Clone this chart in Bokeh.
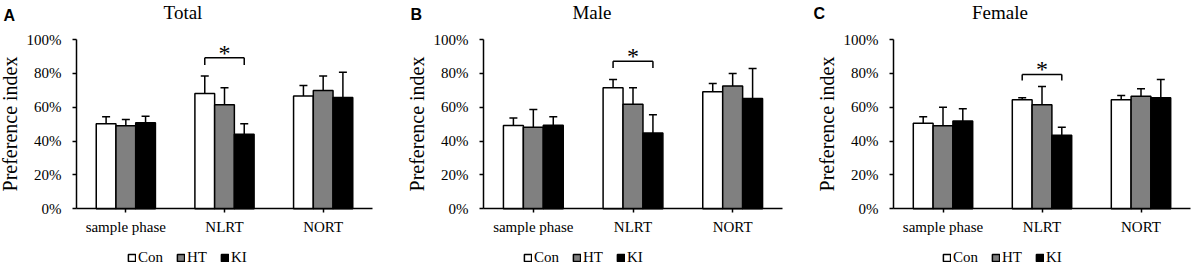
from bokeh.plotting import figure
from bokeh.layouts import row
from bokeh.models import (Range1d, Whisker, TeeHead, ColumnDataSource, Legend, LegendItem,
                          Label, FixedTicker, PrintfTickFormatter)
from bokeh.transform import dodge
from bokeh.core.properties import value
from bokeh.embed import file_html
from bokeh.resources import INLINE

# ---------------- data ----------------
categories = ["sample phase", "NLRT", "NORT"]
category_pos = [1, 2, 3]
groups = ["Con", "HT", "KI"]
group_colors = ["#ffffff", "#808080", "#000000"]
y_ticks = [0, 20, 40, 60, 80, 100]

panel_titles = ["Total", "Male", "Female"]
panel_letters = ["A", "B", "C"]

# means (%) per group, and upper error-bar lengths (%)
total_con = [50.2, 68.1, 66.7]
total_ht = [49.0, 61.4, 69.9]
total_ki = [50.8, 44.1, 65.7]
total_con_err = [4.1, 10.4, 6.1]
total_ht_err = [3.8, 10.1, 8.6]
total_ki_err = [3.9, 6.1, 15.0]

male_con = [49.2, 71.5, 69.1]
male_ht = [48.2, 61.8, 72.6]
male_ki = [49.4, 44.7, 65.2]
male_con_err = [4.5, 4.9, 4.9]
male_ht_err = [10.5, 9.7, 7.3]
male_ki_err = [4.9, 10.8, 17.7]

female_con = [50.6, 64.4, 64.4]
female_ht = [49.0, 61.4, 66.5]
female_ki = [51.8, 43.5, 65.6]
female_con_err = [3.7, 1.2, 2.5]
female_ht_err = [11.0, 10.8, 4.4]
female_ki_err = [7.3, 4.7, 10.8]

# significance bracket (NLRT: Con vs KI): bracket top, leg bottom, star centre (%)
sig_category = "NLRT"
sig_top = [89.2, 87.2, 79.3]
sig_leg = [84.9, 83.1, 75.8]
sig_star = [93.9, 91.9, 84.6]

panel_means = [[total_con, total_ht, total_ki],
               [male_con, male_ht, male_ki],
               [female_con, female_ht, female_ki]]
panel_errs = [[total_con_err, total_ht_err, total_ki_err],
              [male_con_err, male_ht_err, male_ki_err],
              [female_con_err, female_ht_err, female_ki_err]]

# ---------------- layout (pixels) ----------------
H = 266
fig_widths = [395, 395, 402]
axis_left_px = [76, 88, 103]
axis_right_px = [372, 387, 400]
y0_px, y100_px = 208.3, 39.0
title_cx = [182.5, 196.5, 209.5]
title_base = 12.0
letter_x = [3, 15, 23]
letter_base = [14.5, 14.0, 12.5]
legend_left = [127, 128, 152]

SERIF = "Liberation Serif"
BAR_W = 0.2

figs = []
for k in range(3):
    W = fig_widths[k]
    x_lo, x_hi = category_pos[0] - 0.5, category_pos[-1] + 0.5
    ppx = (axis_right_px[k] - axis_left_px[k]) / (x_hi - x_lo)
    xs = x_lo - axis_left_px[k] / ppx
    xe = xs + W / ppx
    ppy = (y0_px - y100_px) / 100.0
    ys = -(H - y0_px) / ppy
    ye = 100 + y100_px / ppy

    p = figure(x_range=Range1d(xs, xe), y_range=Range1d(ys, ye),
               width=W, height=H, title=None, min_border=0,
               min_border_left=0, min_border_right=0, min_border_top=0,
               min_border_bottom=0, output_backend="svg", toolbar_location=None)
    p.outline_line_color = None
    p.xgrid.visible = False
    p.ygrid.visible = False
    p.background_fill_color = "white"
    p.border_fill_color = "white"

    items = []
    for gi, g in enumerate(groups):
        off = (gi - 1) * BAR_W
        means = panel_means[k][gi]
        errs = panel_errs[k][gi]
        src = ColumnDataSource(dict(x=category_pos, top=means,
                                    upper=[m + e for m, e in zip(means, errs)]))
        r = p.vbar(x=dodge("x", off), top="top", width=BAR_W, source=src,
                   fill_color=group_colors[gi], line_color="black", line_width=1.5)
        w = Whisker(base=dodge("x", off), upper="upper", lower="top", source=src,
                    line_color="black", line_width=1.5,
                    upper_head=TeeHead(size=8, line_color="black", line_width=1.5),
                    lower_head=None, level="overlay")
        p.add_layout(w)
        items.append(LegendItem(label=g, renderers=[r]))

    # significance bracket
    sx = category_pos[categories.index(sig_category)]
    ssrc = ColumnDataSource(dict(x=[sx], top=[sig_top[k]], leg=[sig_leg[k]],
                                 star=[sig_star[k]]))
    p.segment(x0=dodge("x", -BAR_W), y0="top", x1=dodge("x", BAR_W), y1="top",
              source=ssrc, line_color="black", line_width=1.5)
    for off in (-BAR_W, BAR_W):
        p.segment(x0=dodge("x", off), y0="leg", x1=dodge("x", off), y1="top",
                  source=ssrc, line_color="black", line_width=1.5)
    p.text(x="x", y="star", text=value("*"), source=ssrc, text_align="center",
           text_baseline="middle", y_offset=3, text_font=value(SERIF),
           text_font_size="24px", text_color="black")

    # axes (kept in their side panels, pinned at the data origin)
    xa = p.xaxis[0]
    xa.ticker = FixedTicker(ticks=category_pos)
    xa.major_label_overrides = {c: lab for c, lab in zip(category_pos, categories)}
    xa.fixed_location = 0
    xa.bounds = (x_lo, x_hi)
    xa.major_label_standoff = 6

    ya = p.yaxis[0]
    ya.ticker = FixedTicker(ticks=y_ticks)
    ya.formatter = PrintfTickFormatter(format="%d%%")
    ya.fixed_location = x_lo
    ya.bounds = (0, 100)
    ya.axis_label = "Preference index"
    ya.axis_label_text_font = SERIF
    ya.axis_label_text_font_style = "normal"
    ya.axis_label_text_font_size = "20px"
    ya.axis_label_text_color = "black"
    ya.axis_label_standoff = 3
    ya.major_label_standoff = 11
    for ax in (xa, ya):
        ax.minor_tick_line_color = None
        ax.axis_line_color = "black"
        ax.axis_line_width = 1.5
        ax.major_tick_line_color = "black"
        ax.major_tick_line_width = 1.5
        ax.major_tick_out = 4
        ax.major_tick_in = 0
        ax.major_label_text_font = SERIF
        ax.major_label_text_font_size = "15px"
        ax.major_label_text_color = "black"

    legend = Legend(items=items, orientation="horizontal",
                    location=(legend_left[k], 0),
                    glyph_width=9, glyph_height=9, label_standoff=2, spacing=13,
                    padding=0, margin=0, border_line_color=None,
                    background_fill_alpha=0, label_text_font=SERIF,
                    label_text_font_size="15px", label_text_color="black")
    p.add_layout(legend)

    p.add_layout(Label(x=title_cx[k], y=H - title_base, x_units="screen", y_units="screen",
                       text=panel_titles[k], text_align="center",
                       text_baseline="alphabetic", text_font=SERIF,
                       text_font_size="19px", text_color="black"))
    p.add_layout(Label(x=letter_x[k], y=H - letter_base[k], x_units="screen",
                       y_units="screen", text=panel_letters[k], text_align="left",
                       text_baseline="alphabetic", text_font="Liberation Sans",
                       text_font_style="bold", text_font_size="16px",
                       text_color="black"))
    figs.append(p)

layout = row(*figs)
open("out.html", "w").write(file_html(layout, INLINE))
